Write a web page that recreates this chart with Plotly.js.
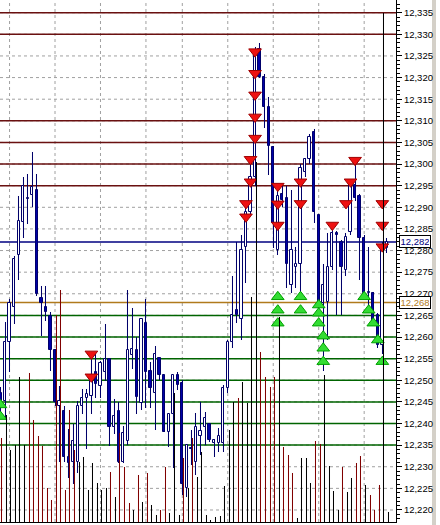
<!DOCTYPE html>
<html><head><meta charset="utf-8">
<script src="https://cdn.plot.ly/plotly-3.0.1.min.js"></script>
<style>html,body{margin:0;padding:0;background:#fff}#chart{width:440px;height:525px}</style>
</head><body><div id="chart"></div>
<script>
// OHLC bars (bar index 0..85)
const open = [12.2470,12.2453,12.2588,12.2670,12.2790,12.2867,12.2919,12.2928,12.2940,12.2690,
12.2670,12.2649,12.2570,12.2441,12.2430,12.2322,12.2310,12.2310,12.2441,12.2460,
12.2464,12.2518,12.2487,12.2518,12.2549,12.2391,12.2429,12.2310,12.2360,12.2559,
12.2571,12.2447,12.2632,12.2522,12.2470,12.2551,12.2512,12.2381,12.2422,12.2512,
12.2493,12.2250,12.2343,12.2310,12.2370,12.2392,12.2400,12.2354,12.2354,12.2354,
12.2481,12.2589,12.2662,12.2641,12.2809,12.2890,12.2970,12.3265,12.3201,12.3131,
12.3040,12.2801,12.2930,12.2921,12.2720,12.2761,12.2770,12.2982,12.3011,12.3075,
12.2882,12.2678,12.2682,12.2763,12.2840,12.2820,12.2755,12.2844,12.2952,12.2925,
12.2830,12.2701,12.2702,12.2651,12.2582,12.2805];
const high = [12.2485,12.2634,12.2688,12.2788,12.2927,12.2969,12.2977,12.3027,12.2977,12.2719,
12.2719,12.2657,12.2572,12.2487,12.2441,12.2387,12.2400,12.2453,12.2480,12.2480,
12.2560,12.2560,12.2545,12.2630,12.2550,12.2456,12.2449,12.2395,12.2709,12.2668,
12.2601,12.2641,12.2689,12.2543,12.2579,12.2552,12.2513,12.2423,12.2513,12.2520,
12.2501,12.2352,12.2385,12.2425,12.2450,12.2427,12.2402,12.2365,12.2389,12.2489,
12.2592,12.2740,12.2820,12.2836,12.2909,12.3005,12.3270,12.3279,12.3208,12.3156,
12.3042,12.2951,12.2951,12.2950,12.2940,12.2809,12.3000,12.3015,12.3070,12.3080,
12.2885,12.2770,12.2840,12.2850,12.2845,12.2825,12.2840,12.2960,12.3005,12.2930,
12.2835,12.2809,12.2705,12.2655,12.2820,12.2828];
const low = [12.2420,12.2410,12.2518,12.2630,12.2732,12.2829,12.2861,12.2900,12.2695,12.2603,
12.2638,12.2522,12.2440,12.2310,12.2310,12.2275,12.2260,12.2285,12.2422,12.2341,
12.2422,12.2460,12.2460,12.2499,12.2349,12.2375,12.2308,12.2308,12.2350,12.2525,
12.2423,12.2431,12.2435,12.2435,12.2385,12.2501,12.2380,12.2346,12.2296,12.2477,
12.2235,12.2231,12.2305,12.2280,12.2328,12.2350,12.2358,12.2323,12.2335,12.2335,
12.2470,12.2574,12.2632,12.2593,12.2724,12.2880,12.2950,12.3198,12.3083,12.2975,
12.2805,12.2790,12.2901,12.2713,12.2701,12.2713,12.2701,12.2970,12.3000,12.2863,
12.2662,12.2522,12.2593,12.2755,12.2650,12.2651,12.2740,12.2835,12.2915,12.2732,
12.2695,12.2655,12.2625,12.2575,12.2560,12.2794];
const close = [12.2453,12.2588,12.2678,12.2780,12.2869,12.2950,12.2921,12.2948,12.2699,12.2678,
12.2659,12.2570,12.2449,12.2453,12.2323,12.2308,12.2360,12.2441,12.2460,12.2468,
12.2507,12.2491,12.2541,12.2549,12.2391,12.2418,12.2310,12.2379,12.2570,12.2572,
12.2462,12.2641,12.2520,12.2481,12.2561,12.2512,12.2381,12.2422,12.2512,12.2489,
12.2260,12.2350,12.2341,12.2392,12.2382,12.2412,12.2361,12.2361,12.2370,12.2481,
12.2589,12.2651,12.2651,12.2801,12.2890,12.2970,12.3258,12.3201,12.3132,12.3041,
12.2864,12.2926,12.2918,12.2770,12.2801,12.2770,12.2990,12.3011,12.3063,12.2890,
12.2678,12.2720,12.2763,12.2840,12.2835,12.2763,12.2832,12.2952,12.2921,12.2830,
12.2701,12.2705,12.2635,12.2582,12.2813,12.2820];
// tick volume per bar and its colour flag (1 = red, 0 = black)
const volume = [84,107,72,77,145,77,149,102,86,76,34,22,207,232,32,112,72,60,65,32,
59,39,32,34,50,25,89,55,19,12,47,20,49,17,7,12,55,9,129,7,
64,34,84,45,70,7,2,5,6,36,92,120,124,140,119,225,360,170,145,135,
145,205,75,67,49,4,64,64,39,81,78,147,56,31,12,55,30,44,59,66,
37,27,12,37,509,10];
const volRed = [1,0,0,0,0,0,1,1,1,1,1,1,1,1,1,1,1,0,0,0,
0,0,0,0,1,0,1,1,1,0,1,0,1,0,0,1,1,0,0,0,
1,0,1,0,0,0,0,0,0,0,0,0,1,0,0,0,0,1,1,1,
1,0,1,1,1,0,0,0,0,1,1,0,0,0,0,1,0,0,1,1,
0,1,1,1,0,0];
// pending order arrows
const sellBar = [56,56,56,56,56,55,55,54,54,20,20,61,61,61,66,66,73,77,76,78,84,84,84];
const sellPrice = [12.3260,12.3210,12.3160,12.3109,12.3060,12.3011,12.2959,12.2909,12.2878,12.2561,12.2508,
12.2949,12.2908,12.2859,12.2959,12.2909,12.2859,12.2959,12.2909,12.3009,12.2909,12.2859,12.2809];
const buyBar = [0,0,61,61,61,66,66,70,70,70,71,71,71,80,81,82,83,84];
const buyPrice = [12.2443,12.2416,12.2693,12.2662,12.2632,12.2693,12.2662,12.2674,12.2655,12.2632,
12.2602,12.2574,12.2543,12.2693,12.2662,12.2632,12.2593,12.2543];
// horizontal levels
const gridLevels = [12.220,12.225,12.230,12.235,12.240,12.245,12.250,12.255,12.260,12.265,12.270,12.275,
12.280,12.285,12.290,12.295,12.300,12.305,12.310,12.315,12.320,12.325,12.330,12.335];
const resistLevels = [12.335,12.330,12.310,12.305,12.300,12.295];
const supportLevels = [12.265,12.260,12.255,12.250,12.245,12.240,12.235];
const bidLevel = 12.282;
const markLevel = 12.268;
const gridBars = [2,12,22,32,40,50,60,70,80];

const NAVY = '#00006a';
const idx = open.map((_, i) => i);
const bull = idx.filter(i => close[i] >= open[i]);
const bear = idx.filter(i => close[i] < open[i]);
const volColors = volRed.map(r => r ? '#800000' : '#000000');

const traces = [
  {type:'bar', x: idx, base: low, y: idx.map(i => high[i]-low[i]), width:0.22,
   marker:{color:NAVY, line:{color:NAVY, width:0.02}}, hoverinfo:'skip'},
  {type:'bar', x: bull, base: bull.map(i => open[i]), y: bull.map(i => Math.max(close[i]-open[i], 0.00005)), width:0.5,
   marker:{color:'#ffffff', line:{color:NAVY, width:1}}, hoverinfo:'skip'},
  {type:'bar', x: bear, base: bear.map(i => close[i]), y: bear.map(i => open[i]-close[i]), width:0.5,
   marker:{color:'#0000a8', line:{color:NAVY, width:1}}, hoverinfo:'skip'},
  {type:'bar', x: idx, y: volume, yaxis:'y2', width:0.22, offset:0.18,
   marker:{color: volColors, line:{color: volColors, width:0.02}}, hoverinfo:'skip'},
  {type:'scatter', mode:'markers', x: sellBar, y: sellPrice, hoverinfo:'skip',
   marker:{symbol:'triangle-down', size:11, color:'#ee1111', line:{color:'#a00000', width:1}}},
  {type:'scatter', mode:'markers', x: buyBar, y: buyPrice, hoverinfo:'skip',
   marker:{symbol:'triangle-up', size:11, color:'#33dd33', line:{color:'#00a000', width:1}}}
];

const shapes = [];
gridLevels.forEach(lv => shapes.push({type:'line', xref:'paper', yref:'y', x0:0, x1:1, y0:lv, y1:lv,
  line:{color:'#a0a0a0', width:1, dash:'3px,3px'}, layer:'below'}));
gridBars.forEach(b => shapes.push({type:'line', xref:'x', yref:'paper', x0:b, x1:b, y0:0, y1:1,
  line:{color:'#a0a0a0', width:1, dash:'3px,3px'}, layer:'below'}));
const hline = (lv, color) => ({type:'line', xref:'paper', yref:'y', x0:0, x1:1, y0:lv, y1:lv,
  line:{color:color, width:1.5}, layer:'below'});
resistLevels.forEach(lv => shapes.push(hline(lv, '#6a1010')));
supportLevels.forEach(lv => shapes.push(hline(lv, '#006400')));
shapes.push(hline(bidLevel, '#000080'));
shapes.push(hline(markLevel, '#b07a1c'));
shapes.push({type:'rect', xref:'paper', yref:'paper', x0:432/396, x1:436/396, y0:-0.01, y1:1.01,
  fillcolor:'#d4d0c8', line:{width:0}, layer:'below'});

const FONT = 'Liberation Sans, Arial, sans-serif';
const boxLabel = (lv, color) => ({xref:'paper', x:399/396, xanchor:'left', yref:'y', y:lv, yanchor:'middle',
  text: lv.toFixed(3).replace('.', ','), showarrow:false, font:{family:FONT, size:9.5, color:color},
  bgcolor:'#ffffff', bordercolor:'#000000', borderwidth:1, borderpad:1, width:28, height:9});

const layout = {
  width:440, height:525,
  margin:{l:0, r:44, t:0, b:3, pad:0},
  paper_bgcolor:'#ffffff', plot_bgcolor:'#ffffff',
  separators:',.',
  showlegend:false,
  barmode:'overlay', bargap:0, bargroupgap:0,
  xaxis:{range:[-0.1, 87.0], showgrid:false, zeroline:false, showticklabels:false, ticks:'',
    showline:true, linecolor:'#000', linewidth:1, fixedrange:true},
  yaxis:{side:'right', range:[12.21722, 12.33794], tick0:12.2, dtick:0.005, tickformat:'.3f',
    showgrid:false, zeroline:false,
    ticks:'outside', ticklen:5, tickcolor:'#000', tickwidth:1, showline:true, linecolor:'#000', linewidth:1,
    tickfont:{family:FONT, size:9.5, color:'#000'},
    minor:{dtick:0.001, ticks:'outside', ticklen:3, tickcolor:'#000', tickwidth:1, showgrid:false},
    fixedrange:true},
  yaxis2:{overlaying:'y', range:[0, 522], visible:false, fixedrange:true},
  shapes: shapes,
  annotations:[boxLabel(bidLevel, '#000080'), boxLabel(markLevel, '#b07a1c')]
};

Plotly.newPlot('chart', traces, layout, {displayModeBar:false});
</script></body></html>
